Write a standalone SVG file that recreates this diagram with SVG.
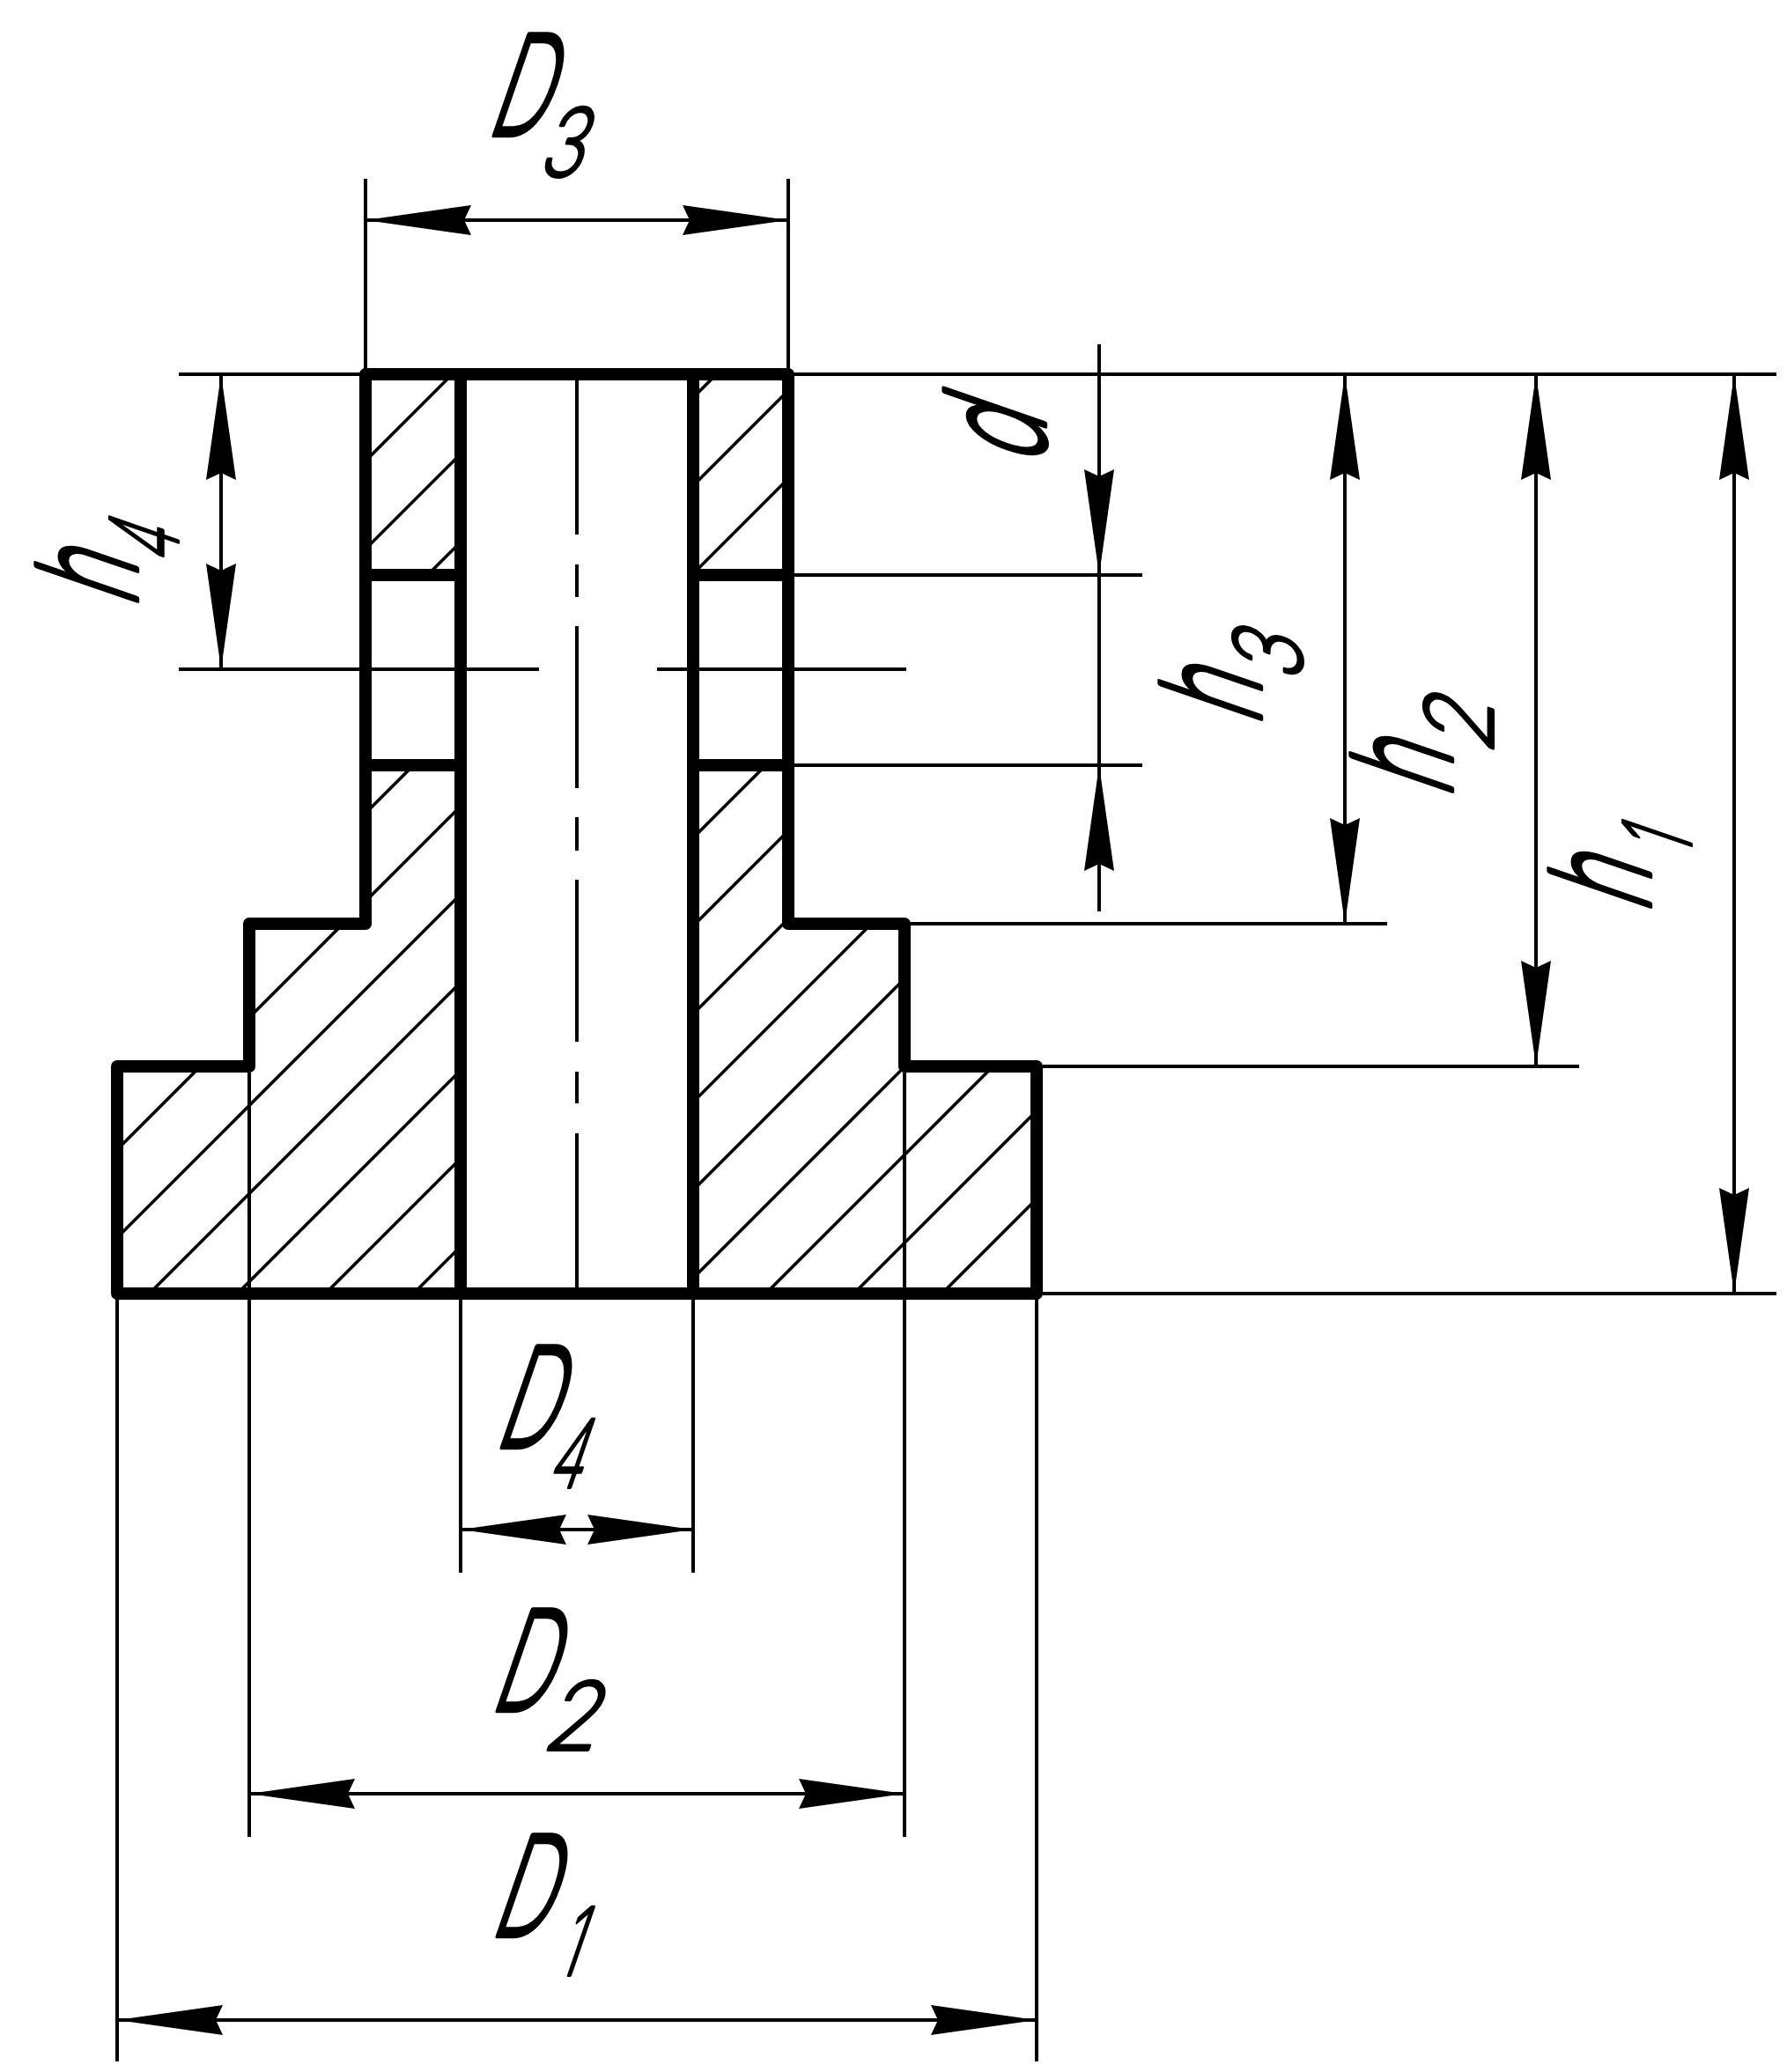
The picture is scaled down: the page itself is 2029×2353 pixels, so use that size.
<svg xmlns="http://www.w3.org/2000/svg" width="2029" height="2353" viewBox="0 0 2029 2353">
<style>
.thick{fill:none;stroke:#000;stroke-width:14;stroke-linejoin:round;stroke-linecap:round}
.thin{fill:none;stroke:#000;stroke-width:4}
.hatch{fill:none;stroke:#000;stroke-width:3.6}
.head{fill:#000;stroke:none}
.lbl{font-family:"Inter","Liberation Sans",sans-serif;font-weight:200;font-size:156px;fill:#000;stroke:#000;stroke-width:5.5;stroke-linejoin:round;vector-effect:non-scaling-stroke}
.sub{font-size:106px;stroke-width:4}
</style>
<defs>
<clipPath id="section"><path d="M415 425H523V653H415ZM415 869H523V1469H133V1211H283V1049H415ZM787 425H895V653H787ZM787 869H895V1049H1027V1211H1177V1469H787Z"/></clipPath>
<path id="ah" d="M0 0L120 -17L112 0L120 17Z"/>
</defs>
<rect width="2029" height="2353" fill="#fff"/>
<g id="hatching" clip-path="url(#section)"><path class="hatch" d="M-541.5 1480L518.5 420M-441.5 1480L618.5 420M-341.5 1480L718.5 420M-241.5 1480L818.5 420M-141.5 1480L918.5 420M-41.5 1480L1018.5 420M58.5 1480L1118.5 420M158.5 1480L1218.5 420M258.5 1480L1318.5 420M358.5 1480L1418.5 420M458.5 1480L1518.5 420M558.5 1480L1618.5 420M658.5 1480L1718.5 420M758.5 1480L1818.5 420M858.5 1480L1918.5 420M958.5 1480L2018.5 420M1058.5 1480L2118.5 420M1158.5 1480L2218.5 420"/></g>
<g id="part"><path class="thick" d="M415 425H895V1049H1027V1211H1177V1469H133V1211H283V1049H415ZM523 425V1469M787 425V1469M415 653H523M787 653H895M415 869H523M787 869H895"/></g>
<g id="centerline"><path class="thin" d="M655 432V607M655 641V678M655 711V895M655 928V966M655 999V1183M655 1217V1253M655 1287V1462"/></g>
<g id="connectors">
<path class="thin" d="M415 203V425M895 203V425M415 250H895M203 425H2017M203 760H612M746 760H1029M902 653H1297M902 869H1297M1033 1049H1575M1184 1211H1793M1184 1469H2017M133 1469V2341M283 1218V2086M1027 1218V2086M1177 1469V2341M523 1469V1786M787 1469V1786M523 1737H787M283 2037H1027M133 2294H1177M251 425V760M1248 391V1035M1527 425V1049M1744 425V1211M1969 425V1469"/>
<g class="head">
<use href="#ah" transform="translate(415,250)"/><use href="#ah" transform="translate(895,250) rotate(180)"/>
<use href="#ah" transform="translate(523,1737)"/><use href="#ah" transform="translate(787,1737) rotate(180)"/>
<use href="#ah" transform="translate(283,2037)"/><use href="#ah" transform="translate(1027,2037) rotate(180)"/>
<use href="#ah" transform="translate(133,2294)"/><use href="#ah" transform="translate(1177,2294) rotate(180)"/>
<use href="#ah" transform="translate(251,425) rotate(90)"/><use href="#ah" transform="translate(251,760) rotate(-90)"/>
<use href="#ah" transform="translate(1248,653) rotate(-90)"/><use href="#ah" transform="translate(1248,869) rotate(90)"/>
<use href="#ah" transform="translate(1527,425) rotate(90)"/><use href="#ah" transform="translate(1527,1049) rotate(-90)"/>
<use href="#ah" transform="translate(1744,425) rotate(90)"/><use href="#ah" transform="translate(1744,1211) rotate(-90)"/>
<use href="#ah" transform="translate(1969,425) rotate(90)"/><use href="#ah" transform="translate(1969,1469) rotate(-90)"/>
</g>
</g>
<g id="label-D3"><text class="lbl" transform="translate(551,153) skewX(-19) scale(0.6,1)">D<tspan class="sub" dx="12" dy="47" textLength="84" lengthAdjust="spacingAndGlyphs">3</tspan></text></g>
<g id="label-D4"><text class="lbl" transform="translate(560,1643) skewX(-19) scale(0.6,1)">D<tspan class="sub" dx="14" dy="46">4</tspan></text></g>
<g id="label-D2"><text class="lbl" transform="translate(555,1942) skewX(-19) scale(0.6,1)">D<tspan class="sub" dx="12" dy="45" textLength="104" lengthAdjust="spacingAndGlyphs">2</tspan></text></g>
<g id="label-D1"><text class="lbl" transform="translate(555,2198) skewX(-19) scale(0.6,1)">D<tspan class="sub" dx="40" dy="45">1</tspan></text></g>
<g id="label-h4"><text class="lbl" transform="translate(155,691) rotate(-90) skewX(-19) scale(0.6,1)">h<tspan class="sub" dx="17" dy="47">4</tspan></text></g>
<g id="label-h3"><text class="lbl" transform="translate(1431,825) rotate(-90) skewX(-19) scale(0.6,1)">h<tspan class="sub" dx="17" dy="47" textLength="84" lengthAdjust="spacingAndGlyphs">3</tspan></text></g>
<g id="label-h2"><text class="lbl" transform="translate(1648,907) rotate(-90) skewX(-19) scale(0.6,1)">h<tspan class="sub" dx="17" dy="47" textLength="100" lengthAdjust="spacingAndGlyphs">2</tspan></text></g>
<g id="label-h1"><text class="lbl" transform="translate(1873,1038) rotate(-90) skewX(-19) scale(0.6,1)">h<tspan class="sub" dx="40" dy="47">1</tspan></text></g>
<g id="label-d"><text class="lbl" transform="translate(1186,530) rotate(-90) skewX(-19) scale(0.64,1)">d</text></g>
</svg>
